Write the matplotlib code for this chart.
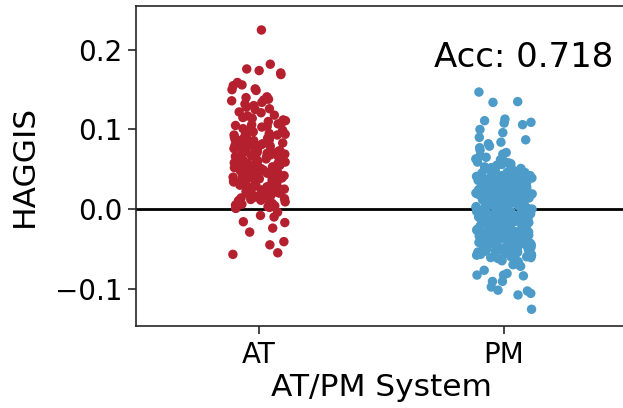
import matplotlib
matplotlib.use("Agg")
import matplotlib.pyplot as plt
import seaborn as sns
import numpy as np
import pandas as pd

# HAGGIS scores, one list per system
systems = ["AT", "PM"]
colors = ["#b5202e", "#4d9bc9"]
acc_text = "Acc: 0.718"

at_upper = [0.225, 0.182, 0.176, 0.174, 0.171, 0.169, 0.159, 0.156, 0.155, 0.151,
            0.150, 0.149, 0.141, 0.140, 0.138, 0.137, 0.136, 0.134, 0.132, 0.130,
            0.128, 0.126, 0.125, 0.122, 0.121, 0.118, 0.117, 0.115, 0.114, 0.112,
            0.111, 0.110, 0.108, 0.107, 0.106, 0.105, 0.104, 0.103, 0.102, 0.101]
at_mid = [0.097, 0.062, 0.031, 0.084, 0.015, 0.073, 0.049, 0.091, 0.022, 0.058, 0.006, 0.069, 0.038, 0.087, 0.044,
          0.012, 0.079, 0.053, 0.026, 0.095, 0.067, 0.003, 0.041, 0.082, 0.019, 0.056, 0.034, 0.076, 0.009, 0.061,
          0.088, 0.028, 0.047, 0.071, 0.017, 0.093, 0.052, 0.036, 0.064, 0.001, 0.078, 0.024, 0.059, 0.042, 0.085,
          0.011, 0.068, 0.033, 0.099, 0.046, 0.021, 0.074, 0.057, 0.007, 0.089, 0.039, 0.063, 0.027, 0.081, 0.050,
          0.014, 0.072, 0.037, 0.094, 0.055, 0.019, 0.066, 0.043, 0.083, 0.004, 0.060, 0.029, 0.077, 0.048, 0.090,
          0.023, 0.065, 0.010, 0.086, 0.040, 0.054, 0.032, 0.070, 0.016, 0.096, 0.045, 0.025, 0.075, 0.058, 0.035,
          0.080, 0.013, 0.051, 0.067, 0.030, 0.092, 0.008, 0.062, 0.044, 0.076, 0.020, 0.053, 0.037, 0.085, 0.002,
          0.070, 0.026, 0.048, 0.018, 0.064, 0.039, 0.082, 0.055, 0.011, 0.073, 0.031, 0.059, 0.022, 0.087, 0.046,
          0.034, 0.069, 0.015, 0.051, 0.078, 0.028, 0.061, 0.005, 0.042, 0.093, 0.024, 0.057, 0.072, 0.036, 0.017]
at_lower = [0.001, -0.004, -0.008, -0.010, -0.016, -0.017, -0.024, -0.029,
            -0.041, -0.045, -0.055, -0.057]

pm_upper = [0.147, 0.135, 0.134, 0.113, 0.111, 0.109, 0.108, 0.106, 0.100, 0.096,
            0.090, 0.087, 0.084, 0.077, 0.074, 0.071, 0.067, 0.065, 0.062, 0.060,
            0.058, 0.057, 0.055, 0.054, 0.053, 0.052, 0.051, 0.050, 0.082, 0.079,
            0.069, 0.063, 0.059, 0.056, 0.052]
pm_mid = [0.048, -0.012, 0.021, -0.037, 0.004, -0.055, 0.033, -0.021, 0.011, -0.046, 0.027, -0.003, -0.061, 0.016, -0.029,
          0.041, -0.008, -0.042, 0.009, -0.024, 0.036, -0.051, 0.002, -0.017, 0.025, -0.034, 0.014, -0.058, -0.006, 0.030,
          -0.014, 0.045, -0.031, 0.006, -0.048, 0.019, -0.002, -0.039, 0.028, -0.019, 0.012, -0.063, -0.027, 0.038, -0.010,
          0.001, -0.044, 0.023, -0.016, 0.034, -0.053, -0.004, 0.015, -0.035, 0.043, -0.022, 0.008, -0.049, -0.013, 0.026,
          -0.038, 0.018, -0.007, 0.039, -0.059, -0.025, 0.010, -0.041, 0.031, -0.015, 0.003, -0.052, 0.022, -0.033, 0.047,
          -0.001, -0.028, 0.013, -0.045, 0.035, -0.009, -0.056, 0.024, -0.020, 0.005, -0.036, 0.042, -0.011, -0.064, 0.017,
          0.029, -0.043, -0.005, 0.020, -0.030, 0.007, -0.050, 0.037, -0.018, -0.002, 0.013, -0.039, 0.044, -0.026, -0.060,
          0.011, -0.033, 0.032, -0.013, -0.047, 0.000, 0.024, -0.023, 0.040, -0.054, -0.008, 0.018, -0.036, 0.006, -0.017,
          -0.042, 0.027, -0.010, 0.046, -0.031, -0.057, 0.014, -0.004, -0.025, 0.035, -0.046, 0.009, -0.015, 0.021, -0.065,
          0.003, -0.037, 0.019, -0.021, 0.038, -0.050, -0.006, 0.026, -0.032, 0.012, -0.044, 0.049, -0.012, -0.027, 0.008,
          -0.053, 0.016, -0.003, 0.031, -0.040, -0.019, 0.004, -0.062, 0.023, -0.029, 0.041, -0.009, -0.035, 0.010, -0.048,
          0.036, -0.014, -0.024, 0.001, -0.043, 0.028, -0.057, 0.015, -0.007, 0.044, -0.034, -0.018, 0.007, -0.052, 0.022,
          -0.011, 0.033, -0.038, 0.002, -0.026, 0.017, -0.049, 0.039, -0.005, -0.031, 0.025, -0.059, -0.016, 0.011, -0.041,
          0.030, -0.022, 0.005, -0.045, 0.047, -0.001, -0.033, 0.019, -0.054, 0.037, -0.013, -0.028, 0.009, -0.040, 0.014,
          -0.020, 0.042, -0.047, -0.008, 0.024, -0.036, 0.003, -0.061, 0.032, -0.015, 0.012, -0.043, -0.024, 0.040, -0.003,
          0.020, -0.051, -0.010, 0.034, -0.030, 0.006, -0.039, 0.027, -0.018, -0.056, 0.016, -0.006, 0.045, -0.035, -0.023,
          0.008, -0.044, 0.029, -0.012, -0.063, 0.021, -0.027, 0.038, -0.002, -0.048, 0.013, -0.019, 0.004, -0.037, 0.031,
          -0.009, 0.043, -0.032, -0.053, 0.018, -0.014, 0.026, -0.041, 0.000, -0.025, 0.035, -0.058, 0.010, -0.005, -0.046,
          0.023, -0.017, 0.046, -0.034, 0.007, -0.050, -0.021, 0.014, -0.038, 0.039, -0.011, -0.029, 0.002, -0.055, 0.028,
          -0.004, -0.042, 0.017, -0.026, 0.033, -0.060, 0.009, -0.016, 0.041, -0.031, -0.007, 0.025, -0.047, 0.012, -0.020]
pm_lower = [-0.066, -0.068, -0.070, -0.070, -0.072, -0.077, -0.081, -0.083, -0.083,
            -0.084, -0.091, -0.091, -0.098, -0.102, -0.103, -0.106, -0.108, -0.126]

at_vals = at_upper + at_mid + at_lower
pm_vals = pm_upper + pm_mid + pm_lower

df = pd.DataFrame({
    "system": ["AT"] * len(at_vals) + ["PM"] * len(pm_vals),
    "HAGGIS": at_vals + pm_vals,
})

fig = plt.figure(figsize=(6.23, 4.08), dpi=100)
ax = fig.add_axes([0.218, 0.201, 0.788, 0.784])

ax.axhline(0, color="black", lw=2, zorder=0.5)

np.random.seed(3)  # jitter only
sns.stripplot(data=df, x="system", y="HAGGIS", hue="system", order=systems,
              hue_order=systems, palette=colors, size=6.8, jitter=0.115,
              linewidth=0, legend=False, ax=ax, zorder=1)

ax.set_xlim(-0.5, 1.5)
ax.set_ylim(-0.147, 0.255)
ax.set_yticks([-0.1, 0.0, 0.1, 0.2])
ax.set_xlabel("AT/PM System", fontsize=22.5, labelpad=3)
ax.set_ylabel("HAGGIS", fontsize=22.5, labelpad=12)
ax.tick_params(labelsize=20, length=6, width=1.2, color=".15")
ax.tick_params(axis="x", pad=5)
for s in ax.spines.values():
    s.set_color(".15")
    s.set_linewidth(1.2)

ax.text(0.973, 0.809, acc_text, transform=ax.transAxes, ha="right",
        va="baseline", fontsize=24.5)

fig.savefig("out.png", dpi=100)
